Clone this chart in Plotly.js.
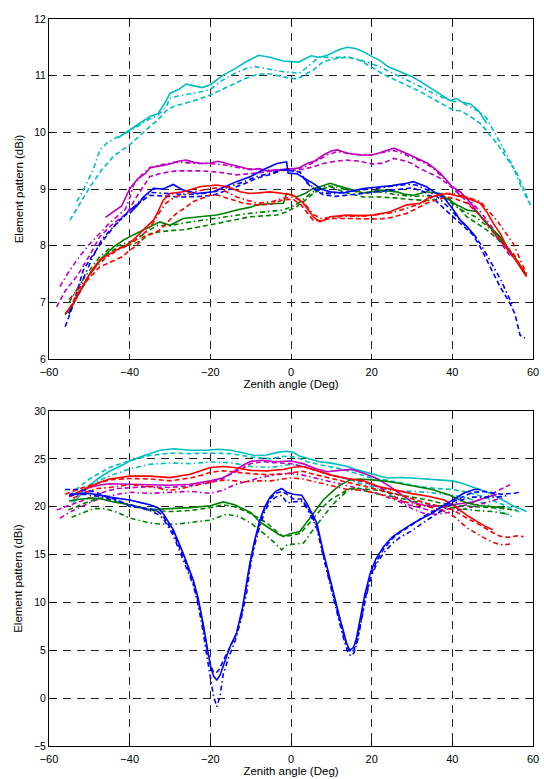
<!DOCTYPE html>
<html>
<head>
<meta charset="utf-8">
<script src="https://cdn.plot.ly/plotly-3.0.1.min.js"></script>
<style>html,body{margin:0;padding:0;background:#fff;}#chart{width:544px;height:779px;}</style>
</head>
<body>
<div id="chart"></div>
<script>
// ---------- Axis ticks ----------
const xTicks = [-60, -40, -20, 0, 20, 40, 60];
const topYTicks = [6, 7, 8, 9, 10, 11, 12];
const botYTicks = [-5, 0, 5, 10, 15, 20, 25, 30];
const xTitle = "Zenith angle (Deg)";
const yTitle = "Element pattern (dBi)";

// ---------- TOP PANEL ----------
// cyan
const topCyanSolidX = [-43,-40,-37,-35,-33,-31,-30,-28,-26,-24,-22,-20,-17,-14,-11,-8,-5,-2,0,2,3,5,7,9,12,14,16,18,20,22,24,26,28,30,32,34,36,38,39.5,41,42.5,44.5,46.5,48.5];
const topCyanSolidY = [9.9,10.04,10.18,10.28,10.33,10.55,10.69,10.75,10.85,10.82,10.79,10.84,11.0,11.12,11.25,11.36,11.32,11.26,11.25,11.24,11.28,11.35,11.32,11.36,11.46,11.5,11.48,11.42,11.34,11.27,11.16,11.1,11.05,10.98,10.9,10.81,10.72,10.64,10.56,10.6,10.53,10.5,10.38,10.16];
const topCyanDashX = [-54.8,-52,-50,-47,-44,-40,-37,-35,-33,-31,-29,-26,-23,-20,-17,-14,-11,-8,-5,-2,0,1.5,3,5.5,8,11,14,17,20,23,26,29,32,35,38,40.3,42,44,46.9,49,51,53,56,58,59.3];
const topCyanDashY = [8.45,8.78,9.02,9.33,9.58,9.78,9.98,10.1,10.22,10.38,10.46,10.52,10.58,10.66,10.76,10.86,10.96,11.03,11.03,10.98,10.95,10.94,11.0,11.1,11.25,11.3,11.33,11.27,11.15,11.02,10.92,10.82,10.72,10.6,10.48,10.39,10.38,10.3,10.16,9.98,9.81,9.6,9.28,8.95,8.72];
const topCyanDashDotX = [-53.1,-51,-49,-47.4,-45.5,-43,-40,-37,-35,-33,-31,-30,-28,-25,-22,-20,-17,-14,-11,-9,-6,-2,0,2,4,7,10,13.8,17,20,22,25,28,32,35,38,40.3,42,44,46.9,48.5,50.2,52,53.5,55.1,57,59.3];
const topCyanDashDotY = [8.78,9.05,9.35,9.69,9.82,9.92,10.02,10.15,10.24,10.3,10.45,10.6,10.64,10.68,10.72,10.76,10.92,11.04,11.13,11.16,11.12,11.07,11.06,11.04,11.15,11.33,11.32,11.33,11.28,11.2,11.16,11.05,10.95,10.81,10.7,10.6,10.54,10.55,10.46,10.36,10.25,10.04,9.8,9.6,9.39,9.05,8.72];
// magenta
const topMagSolidX = [-46,-44,-42,-40,-38,-36,-35,-33,-30,-28,-26,-24,-22,-20,-18,-16,-14,-12,-10,-8,-6,-4,-2,0,2,4,6,8,10,11.5,14,17,20,22,24,25.5,28,30,32,34,37,40,42,44,47,49,51,53,55];
const topMagSolidY = [8.5,8.6,8.7,9.0,9.18,9.28,9.37,9.4,9.44,9.49,9.51,9.47,9.45,9.46,9.49,9.45,9.42,9.38,9.34,9.36,9.32,9.33,9.34,9.36,9.37,9.45,9.5,9.6,9.67,9.69,9.63,9.6,9.6,9.64,9.69,9.72,9.65,9.58,9.51,9.45,9.28,9.04,8.95,8.8,8.52,8.35,8.2,8.0,7.8];
const topMagDashX = [-58.1,-56,-53,-50,-47.4,-45,-43,-40.7,-38.3,-36,-35,-32,-28.4,-25,-22,-18.4,-15,-13.5,-10,-7,-4,-1,0.6,3,5.5,8,11,13.8,17,20.4,23,25.4,28,30,32,35,37,40.3,43,46,49,52,54.5];
const topMagDashY = [6.92,7.2,7.47,7.82,8.16,8.33,8.45,8.57,8.86,9.1,9.22,9.28,9.32,9.32,9.32,9.3,9.27,9.25,9.27,9.3,9.32,9.33,9.33,9.35,9.39,9.45,9.49,9.51,9.49,9.44,9.46,9.54,9.5,9.45,9.36,9.26,9.19,9.0,8.82,8.6,8.38,8.05,7.8];
const topMagDashDotX = [-57.3,-55,-52,-49.8,-47,-45,-43.2,-41,-39.9,-39,-37,-35,-32,-29,-27,-24,-20,-16,-12,-8,-4,0,3,6,9,11.5,15,18,20.4,23,25.4,28,30,32,35,38,40.3,42,44,47,50,53,55];
const topMagDashDotY = [7.28,7.55,7.85,8.04,8.25,8.4,8.51,8.65,8.86,9.08,9.25,9.38,9.43,9.47,9.47,9.45,9.45,9.42,9.36,9.35,9.33,9.35,9.38,9.48,9.6,9.66,9.62,9.6,9.6,9.65,9.68,9.62,9.55,9.5,9.38,9.18,9.02,8.93,8.82,8.6,8.3,8.0,7.82];
// blue
const topBlueSolidX = [-40,-38,-36.6,-34.1,-31.7,-29.2,-26.7,-23.4,-19.3,-16,-13.5,-10,-6.9,-3.5,-1.1,-0.7,1.5,3.5,5.5,7.5,9.7,13,17.9,22.1,25,28.7,30.3,33.6,35.5,37.8,40.3,42,43.6,46.1];
const topBlueSolidY = [8.57,8.72,8.86,9.01,9.0,9.08,8.98,8.92,8.95,9.05,9.13,9.22,9.34,9.45,9.48,9.28,9.27,9.18,9.1,9.0,8.95,8.93,9.01,9.04,9.06,9.1,9.13,9.04,8.95,8.86,8.63,8.45,8.34,8.13];
const topBlueDashX = [-56,-54,-51.5,-49,-46.5,-43.2,-39.9,-37,-35,-30,-26.7,-22,-19.3,-15,-12,-8.5,-5,-1.9,0,2.2,4,6,8,11,15,20,25,30,33,35.5,38,41,43.5,45,46.9,49.4,51.8,54.3,55.5,56.8,58];
const topBlueDashY = [6.57,6.95,7.57,7.85,8.1,8.4,8.63,8.78,8.89,8.87,8.86,8.87,8.89,9.0,9.08,9.19,9.26,9.34,9.32,9.3,9.1,8.98,8.9,8.87,8.9,8.94,8.97,9.02,8.95,8.82,8.65,8.45,8.3,8.2,7.98,7.63,7.28,6.98,6.8,6.42,6.37];
const topBlueDashDotX = [-55,-53,-51,-49,-47,-44.5,-42,-39.5,-37,-35,-30,-26,-22,-19,-15,-12,-8.5,-5,-2,0,2.2,4,6,8,11,15,20,25,29,31,34,36.5,39,41.5,44,46.9,48.5,50.2,52,53.5,55.1];
const topBlueDashDotY = [6.8,7.18,7.5,7.82,8.1,8.3,8.47,8.65,8.82,8.94,8.92,8.9,8.92,8.95,9.05,9.12,9.22,9.28,9.35,9.33,9.3,9.12,9.0,8.93,8.92,8.97,9.0,9.05,9.08,9.07,8.98,8.85,8.68,8.48,8.3,8.04,7.85,7.63,7.4,7.16,6.92];
// red
const topRedSolidX = [-56,-54,-51.5,-49.5,-47.4,-45,-43.2,-41,-39.1,-36.6,-34.1,-33.3,-31.7,-30,-26.7,-22.6,-18.4,-15.9,-12.6,-10.2,-5.2,-1.9,0.6,3.06,5.5,7.2,9.7,13.8,17,20.4,24.6,28.7,32,34.5,38.6,41,43.6,46.9,48.5,50.2,52,53.5,56,58.4];
const topRedSolidY = [6.8,6.98,7.3,7.55,7.75,7.85,7.93,8.0,8.1,8.28,8.45,8.55,8.8,8.92,8.95,9.04,9.07,9.04,8.95,8.92,8.95,8.92,8.89,8.75,8.51,8.42,8.51,8.54,8.53,8.54,8.6,8.72,8.75,8.86,8.92,8.88,8.84,8.75,8.6,8.39,8.2,7.98,7.7,7.45];
const topRedDashX = [-55,-53,-51,-49,-47.4,-45,-42,-39.9,-38,-36.6,-34,-32.5,-30.5,-28.4,-26,-24.2,-20.1,-18,-15.9,-11.8,-8.5,-5,-1.9,0.5,2.5,5.5,7.5,9.7,14,18,22.1,25,28.7,31,33.6,38.6,41,43.6,46,48.5,51,53,55.1,58.4];
const topRedDashY = [6.88,7.15,7.35,7.5,7.63,7.7,7.8,7.92,8.02,8.16,8.22,8.28,8.42,8.57,8.68,8.78,8.89,8.89,8.84,8.75,8.72,8.73,8.81,8.82,8.72,8.45,8.44,8.48,8.48,8.47,8.47,8.5,8.57,8.65,8.75,8.86,8.82,8.75,8.6,8.39,8.15,8.0,7.86,7.47];
const topRedDashDotX = [-55,-53,-51,-48.5,-46,-43,-40,-37.5,-35.5,-34,-32.5,-31,-29,-26,-23,-20.5,-18.4,-16,-13.5,-11,-8.5,-5,-1.9,0.5,3,5.5,7.5,10,14,18,22,25,28.7,32,35,37,40.3,43.5,46.9,49,51,53,55.1,58.4];
const topRedDashDotY = [7.05,7.22,7.38,7.62,7.78,7.92,8.02,8.15,8.28,8.42,8.6,8.75,8.85,8.92,8.97,9.0,9.02,8.95,8.86,8.8,8.75,8.77,8.84,8.86,8.78,8.55,8.48,8.5,8.52,8.52,8.55,8.58,8.66,8.74,8.85,8.92,8.92,8.86,8.78,8.62,8.45,8.25,8.04,7.5];
// green
const topGreenSolidX = [-55.2,-53.1,-51.5,-49.8,-48,-46.5,-44,-41.5,-39.1,-37,-35,-32.5,-30,-28.5,-26.7,-22.6,-18.4,-16,-13.5,-10,-8.5,-5,-1.9,-1.1,0.5,1.4,3.5,5.5,7.5,9.7,11.5,13.8,17.9,22.1,26.2,28,30.3,33.6,37,40.3,43.6,46.1,48.5,51.8,55.1,57.6,58.4];
const topGreenSolidY = [6.81,7.1,7.3,7.51,7.68,7.81,7.98,8.1,8.19,8.26,8.33,8.42,8.36,8.42,8.48,8.51,8.54,8.58,8.63,8.68,8.72,8.74,8.75,8.92,8.88,8.86,8.92,9.01,9.05,9.1,9.06,9.01,8.93,8.98,8.95,8.91,8.89,8.95,8.92,8.75,8.63,8.6,8.39,8.16,7.81,7.57,7.48];
const topGreenDashX = [-56,-53.1,-50,-47,-44,-41,-39,-37,-35,-32,-29,-26.7,-22,-18.4,-14,-10.2,-6,-3.5,-1,1.4,3.5,5.5,7.5,9.7,12,14,17.9,22,26.2,30.3,34,36,38.6,41,43.6,46,48.5,51,53.5,56,58.4];
const topGreenDashY = [6.78,7.08,7.48,7.78,7.93,8.0,8.03,8.1,8.21,8.25,8.27,8.28,8.34,8.39,8.45,8.51,8.53,8.54,8.6,8.69,8.8,8.92,9.0,9.04,8.98,8.93,8.86,8.86,8.84,8.81,8.8,8.82,8.86,8.72,8.51,8.4,8.28,8.13,7.98,7.75,7.48];
const topGreenDashDotX = [-55,-52.5,-50,-47.5,-45,-42,-39.5,-37,-35,-33,-30,-26.7,-22,-18.4,-14,-10.2,-6,-1.9,0.5,2.5,4.5,6.5,9,11.5,14,18,22,26,30,34,37.5,40.3,43,46,48.5,51,53.5,56,58];
const topGreenDashDotY = [7.0,7.3,7.56,7.8,7.95,8.02,8.08,8.18,8.28,8.36,8.35,8.4,8.45,8.48,8.53,8.57,8.6,8.63,8.7,8.78,8.9,9.0,9.06,9.03,8.98,8.93,8.95,8.9,8.87,8.88,8.87,8.72,8.6,8.5,8.35,8.2,8.0,7.72,7.5];

// ---------- BOTTOM PANEL ----------
// cyan
const botCyanSolidX = [-54,-51,-48,-45,-42,-39.9,-36,-32.5,-29,-25,-21,-18,-15,-12,-9,-6,-3,-1,0.5,2,5,7,10,12,14,16,18,20,22,24,27,30,33,35,38,40,42,44,46,48,50,52,55,58.4];
const botCyanSolidY = [20.4,21.8,22.9,23.7,24.3,24.8,25.4,25.9,26.05,25.9,25.9,26.0,25.9,25.6,25.35,25.4,25.7,25.8,25.7,25.3,24.9,24.7,24.55,24.35,24.2,23.9,23.65,23.45,23.2,23.0,23.05,23.0,22.9,22.9,22.8,22.7,22.5,22.2,21.9,21.6,21.3,20.8,20.1,19.5];
const botCyanDashX = [-55,-50,-45,-40,-35,-30,-25,-20,-15,-10,-5,-2,1,4,8,12,16,20,24,28,32,36,40,44,48,52,55,57];
const botCyanDashY = [21.2,22.9,24.1,24.8,25.35,25.6,25.55,25.6,25.55,25.2,25.0,25.27,25.2,24.7,24.3,24.0,23.5,23.0,22.75,22.4,22.1,21.9,21.8,21.5,21.0,20.3,19.8,19.4];
const botCyanDashDotX = [-54.5,-50,-45,-40,-35,-30,-25,-20,-15,-10,-5,0,3,6,10,14,18,22,26,30,34,38,42,46,50,53,55.1];
const botCyanDashDotY = [20.5,22.3,23.2,23.95,24.43,24.57,24.5,24.67,24.6,24.2,24.1,24.43,24.2,23.8,23.3,22.9,22.3,21.9,21.7,21.6,21.5,21.3,21.1,20.6,20.0,19.3,18.9];
// magenta
const botMagSolidX = [-55,-52,-50,-47,-45,-40,-35,-30,-25,-20,-17,-15,-12,-10,-7,-4,0,3,6,9,12,15,18,21,24,27,30,33,36,39,42,45,48,51];
const botMagSolidY = [21.0,21.6,22.0,22.3,22.4,22.35,22.3,22.25,22.35,22.7,23.0,23.45,24.3,24.75,24.85,24.7,24.78,24.5,24.0,23.65,23.8,23.9,23.5,23.0,22.25,21.4,20.5,20.15,20.05,20.15,20.3,20.5,20.9,21.3];
const botMagDashX = [-58.1,-55,-52,-49,-46,-43,-40,-35,-30,-25,-20,-17,-15,-12,-10,-7,-4,0,3,6,10,14,18,22,26,29,32,35.3,39.4,43.6,46,48.5,51,54.3];
const botMagDashY = [19.65,20.1,20.6,21.1,21.6,21.9,22.0,22.1,22.0,22.2,22.5,22.9,23.4,24.0,24.5,24.7,24.6,24.5,24.2,23.8,23.3,22.9,22.6,22.0,21.0,20.2,19.9,19.5,19.8,20.2,20.6,21.0,21.6,22.3];
const botMagDashDotX = [-57.3,-55,-52,-49,-46,-43,-39.9,-35,-30,-25,-20.1,-17,-14,-10,-7,-3,0,3,6,10,14,18,22,27,30,33,36,39,42,45,48,51,53];
const botMagDashDotY = [18.8,19.4,20.0,20.6,21.0,21.3,21.5,21.4,21.5,21.6,21.4,21.7,22.3,22.8,23.1,23.4,23.5,23.3,23.0,22.6,22.2,21.8,21.3,20.5,19.8,19.3,19.2,19.4,19.7,20.0,20.4,20.8,21.0];
// blue
const botBlueSolidX = [-54.8,-50,-45,-40,-37,-35,-33,-31.7,-29.2,-26.7,-24.2,-23,-21.8,-20.9,-20,-19.2,-18.4,-17.6,-16.5,-15.1,-13.5,-12,-10.2,-9,-7.7,-6.5,-5.2,-3.8,-2.3,-1,0.5,2.65,4,5,6.4,8,9.7,11,12.2,13.2,13.8,14.6,15.5,16.2,17.1,18.3,19.6,21,22.9,25,27,30,33,35,37,40,42.8,45.4,47];
const botBlueSolidY = [21.3,21.4,21.0,20.7,20.4,20.2,19.9,19.3,17.6,15.1,12.3,10.4,7.8,5.4,3.4,2.3,1.9,2.4,3.8,5.4,6.8,9.5,14.1,16.5,18.6,20.0,21.0,21.6,21.9,21.5,21.3,21.2,20.3,19.4,18.3,15.3,12.3,10.2,8.2,6.7,5.7,5.0,5.3,6.2,8.2,10.8,13.0,14.5,15.8,16.8,17.4,18.2,18.9,19.3,19.9,20.7,21.4,21.8,21.8];
const botBlueDashX = [-56,-53,-49,-45,-42,-39.9,-37,-35,-33,-31.7,-29.2,-26.7,-24.2,-23,-21.8,-20.9,-20,-19.3,-18.6,-17.8,-16.7,-15.1,-13.5,-12,-10.2,-9,-7.7,-6.5,-5.2,-3.8,-2.3,-1,0.6,2.5,4,5,6.4,8,9.7,11,12.2,13.2,14,14.8,15.6,16.4,17.3,18.5,19.8,21.2,23,25,27,30,33,36,39,42,45,48,52,55,56.8];
const botBlueDashY = [21.8,21.8,21.6,21.0,20.5,20.0,19.9,19.8,19.5,19.0,17.3,14.8,12.0,10.1,7.6,5.3,3.6,2.76,2.6,3.0,4.0,5.3,6.7,9.3,13.9,16.3,18.4,19.8,20.8,21.4,21.6,21.3,20.8,20.8,20.0,19.2,18.0,15.0,12.0,9.9,7.9,6.4,5.3,4.8,5.0,6.0,8.0,10.6,12.8,14.3,15.6,16.6,17.3,18.1,19.0,19.7,20.3,20.9,21.5,21.6,21.3,21.4,21.5];
const botBlueDashDotX = [-55,-51,-47,-43,-39.9,-37,-35,-33,-31.7,-29.2,-26.7,-24.2,-23,-21.8,-20.9,-20,-19.2,-18.4,-17.6,-16.8,-15.5,-14,-12.5,-11,-10.2,-9,-7.7,-6.5,-5.2,-3.8,-2.3,-1,0.6,2.5,4,5,6.4,8,9.7,11,12.2,13.2,14,14.8,15.6,16.4,17.3,18.5,19.8,21.2,23,25,27,30,33,36,40,43,45,48,51,54];
const botBlueDashDotY = [21.2,21.3,21.0,20.6,20.2,19.8,19.6,19.2,18.8,17.0,14.5,11.8,9.7,7.0,4.5,2.0,0.2,-0.9,0.2,2.5,4.2,5.8,8.0,11.0,13.5,16.0,18.0,19.5,20.5,21.0,21.2,20.4,20.5,20.6,19.8,19.0,17.8,14.8,11.8,9.6,7.6,6.0,4.9,4.4,4.7,5.8,7.8,10.4,12.6,14.0,15.2,16.1,16.8,17.5,18.4,19.2,20.3,20.8,21.0,21.0,21.0,21.2];
// red
const botRedSolidX = [-55,-52,-50,-47,-45,-40,-35,-30,-25,-22,-20,-17,-14,-10,-6,-2,1,3,6,10,14,18,22,26,30,34,38,40,42,44,46,48,50];
const botRedSolidY = [21.1,21.7,22.07,22.6,22.9,23.2,23.2,23.04,23.4,23.8,24.1,24.2,24.1,23.8,23.74,23.88,24.15,24.2,23.8,23.3,22.94,22.7,22.07,21.7,21.37,21.1,20.7,20.2,19.6,19.0,18.5,18.0,17.6];
const botRedDashX = [-56,-53,-50,-47,-45,-40,-35,-30,-25,-22,-20,-17,-14,-10,-6,-2,1,3,6,10,14,18,22,26,30,34,37,40,42,44,46,48,50,52,54,56,57.6];
const botRedDashY = [21.3,21.8,22.2,22.6,22.8,22.95,22.9,22.7,23.0,23.3,23.6,23.75,23.6,23.45,23.35,23.4,23.6,23.7,23.35,22.95,22.55,22.1,21.75,21.35,20.85,20.3,20.05,19.7,19.2,18.7,18.3,17.8,17.3,16.9,16.8,16.95,16.87];
const botRedDashDotX = [-54,-51,-48,-45,-40,-35,-30,-26,-22,-20,-16,-12,-8,-5,-2,0,3,6,10,14,18,22,26,30,34,37,39.4,41.5,43.6,46,48.5,50.5,52.5,54.3];
const botRedDashDotY = [20.9,21.5,21.9,22.0,22.3,22.1,21.7,22.0,22.4,22.6,22.8,22.6,22.7,22.7,22.9,23.0,22.9,22.6,22.2,21.8,21.7,21.3,20.8,20.3,20.0,19.7,19.3,18.6,17.8,17.2,16.6,16.2,16.0,16.1];
// green
const botGreenSolidX = [-55,-52,-49,-47,-44,-40,-35,-30,-25,-20,-16.8,-14,-10,-7.7,-5,-3,-1.9,0,2.2,4,6,8,10,12,14.6,17,20,23,26,30,35,39.4,43.6,47,50,53];
const botGreenSolidY = [20.6,20.8,20.9,20.8,20.5,20.2,19.7,19.8,19.9,20.1,20.5,20.2,19.4,18.4,17.6,17.1,16.9,17.2,17.4,18.4,19.6,20.7,21.5,22.2,22.8,22.9,22.8,22.7,22.5,22.2,21.8,21.2,20.4,20.1,20.0,19.9];
const botGreenDashX = [-55.2,-51,-47.4,-44,-39.9,-35,-30,-25,-20,-16.8,-14,-10,-6,-3,-1.9,0,2.2,4,6,8,10,12,14.6,17,20,22,26,30,34,38,42,46,50,53,56];
const botGreenDashY = [19.65,20.4,20.9,20.6,20.2,19.6,19.5,19.6,19.9,20.2,20.0,19.3,18.3,17.2,16.9,17.0,17.2,18.0,19.0,20.0,20.8,21.3,21.9,21.9,21.8,21.7,21.3,21.0,20.7,20.3,20.1,20.0,19.9,19.8,19.6];
const botGreenDashDotX = [-54.4,-51,-49,-46,-43,-39.9,-35,-32.5,-28,-24,-20,-16,-13,-10,-7,-4,-2.3,-1,3.1,5,8,11,14.6,18,22,26,30,34,38,42,46,50,54];
const botGreenDashDotY = [18.9,19.5,19.8,19.8,19.4,18.8,18.3,18.2,18.2,18.4,18.6,19.2,19.0,18.3,17.3,16.2,15.5,16.0,16.2,17.3,19.0,20.5,21.9,21.7,21.3,21.0,20.6,20.3,20.0,19.8,19.6,19.5,19.2];

// ---------- styles ----------
const C_CYAN = "#00bfbf", C_MAG = "#bf00bf", C_BLUE = "#0000ff", C_RED = "#ff0000", C_GREEN = "#008000";
const DASH = "5px,3px";
const DASHDOT = "5px,3px,1.5px,3px";

function tr(x, y, color, dash, xa, ya) {
  return {x: x, y: y, type: "scatter", mode: "lines", xaxis: xa, yaxis: ya,
          line: {color: color, width: 1.6, dash: dash}, hoverinfo: "skip", showlegend: false};
}

const data = [
  tr(topCyanSolidX, topCyanSolidY, C_CYAN, "solid", "x", "y"),
  tr(topCyanDashX, topCyanDashY, C_CYAN, DASH, "x", "y"),
  tr(topCyanDashDotX, topCyanDashDotY, C_CYAN, DASHDOT, "x", "y"),
  tr(topMagSolidX, topMagSolidY, C_MAG, "solid", "x", "y"),
  tr(topMagDashX, topMagDashY, C_MAG, DASH, "x", "y"),
  tr(topMagDashDotX, topMagDashDotY, C_MAG, DASHDOT, "x", "y"),
  tr(topGreenSolidX, topGreenSolidY, C_GREEN, "solid", "x", "y"),
  tr(topGreenDashX, topGreenDashY, C_GREEN, DASH, "x", "y"),
  tr(topGreenDashDotX, topGreenDashDotY, C_GREEN, DASHDOT, "x", "y"),
  tr(topBlueSolidX, topBlueSolidY, C_BLUE, "solid", "x", "y"),
  tr(topBlueDashX, topBlueDashY, C_BLUE, DASH, "x", "y"),
  tr(topBlueDashDotX, topBlueDashDotY, C_BLUE, DASHDOT, "x", "y"),
  tr(topRedSolidX, topRedSolidY, C_RED, "solid", "x", "y"),
  tr(topRedDashX, topRedDashY, C_RED, DASH, "x", "y"),
  tr(topRedDashDotX, topRedDashDotY, C_RED, DASHDOT, "x", "y"),

  tr(botCyanSolidX, botCyanSolidY, C_CYAN, "solid", "x2", "y2"),
  tr(botCyanDashX, botCyanDashY, C_CYAN, DASH, "x2", "y2"),
  tr(botCyanDashDotX, botCyanDashDotY, C_CYAN, DASHDOT, "x2", "y2"),
  tr(botMagSolidX, botMagSolidY, C_MAG, "solid", "x2", "y2"),
  tr(botMagDashX, botMagDashY, C_MAG, DASH, "x2", "y2"),
  tr(botMagDashDotX, botMagDashDotY, C_MAG, DASHDOT, "x2", "y2"),
  tr(botGreenSolidX, botGreenSolidY, C_GREEN, "solid", "x2", "y2"),
  tr(botGreenDashX, botGreenDashY, C_GREEN, DASH, "x2", "y2"),
  tr(botGreenDashDotX, botGreenDashDotY, C_GREEN, DASHDOT, "x2", "y2"),
  tr(botRedSolidX, botRedSolidY, C_RED, "solid", "x2", "y2"),
  tr(botRedDashX, botRedDashY, C_RED, DASH, "x2", "y2"),
  tr(botRedDashDotX, botRedDashDotY, C_RED, DASHDOT, "x2", "y2"),
  tr(botBlueSolidX, botBlueSolidY, C_BLUE, "solid", "x2", "y2"),
  tr(botBlueDashX, botBlueDashY, C_BLUE, DASH, "x2", "y2"),
  tr(botBlueDashDotX, botBlueDashDotY, C_BLUE, DASHDOT, "x2", "y2")
];

const FONT = {family: "Liberation Sans, Arial, Helvetica, sans-serif", size: 11, color: "#000"};
const YFONT = {family: FONT.family, size: 10.5, color: "#000"};
const GRID = {showgrid: true, gridcolor: "#222", gridwidth: 1, griddash: "8px,6px", zeroline: false,
              showline: true, linecolor: "#000", linewidth: 1, mirror: "ticks",
              ticks: "inside", ticklen: 5, tickcolor: "#000", tickfont: FONT};

function xa(anchor) {
  return Object.assign({}, GRID, {anchor: anchor, domain: [0, 1], range: [-60, 60], tickvals: xTicks,
    ticklabelstandoff: 3,
    title: {text: xTitle, font: {family: FONT.family, size: 11.5, color: "#000"}, standoff: 1}});
}
function ya(anchor, dom, rng, tv) {
  return Object.assign({}, GRID, {anchor: anchor, domain: dom, range: rng, tickvals: tv, tickfont: YFONT,
    title: {text: yTitle, font: {family: FONT.family, size: 11.5, color: "#000"}, standoff: 8}});
}

const layout = {
  width: 544, height: 779,
  margin: {l: 49, r: 11, t: 19, b: 33},
  paper_bgcolor: "#fff", plot_bgcolor: "#fff",
  font: FONT, showlegend: false,
  xaxis: xa("y"),
  yaxis: ya("x", [0.5323, 1], [6, 12], topYTicks),
  xaxis2: xa("y2"),
  yaxis2: ya("x2", [0, 0.4608], [-5, 30], botYTicks)
};

Plotly.newPlot("chart", data, layout, {staticPlot: true, displayModeBar: false});
</script>
</body>
</html>
